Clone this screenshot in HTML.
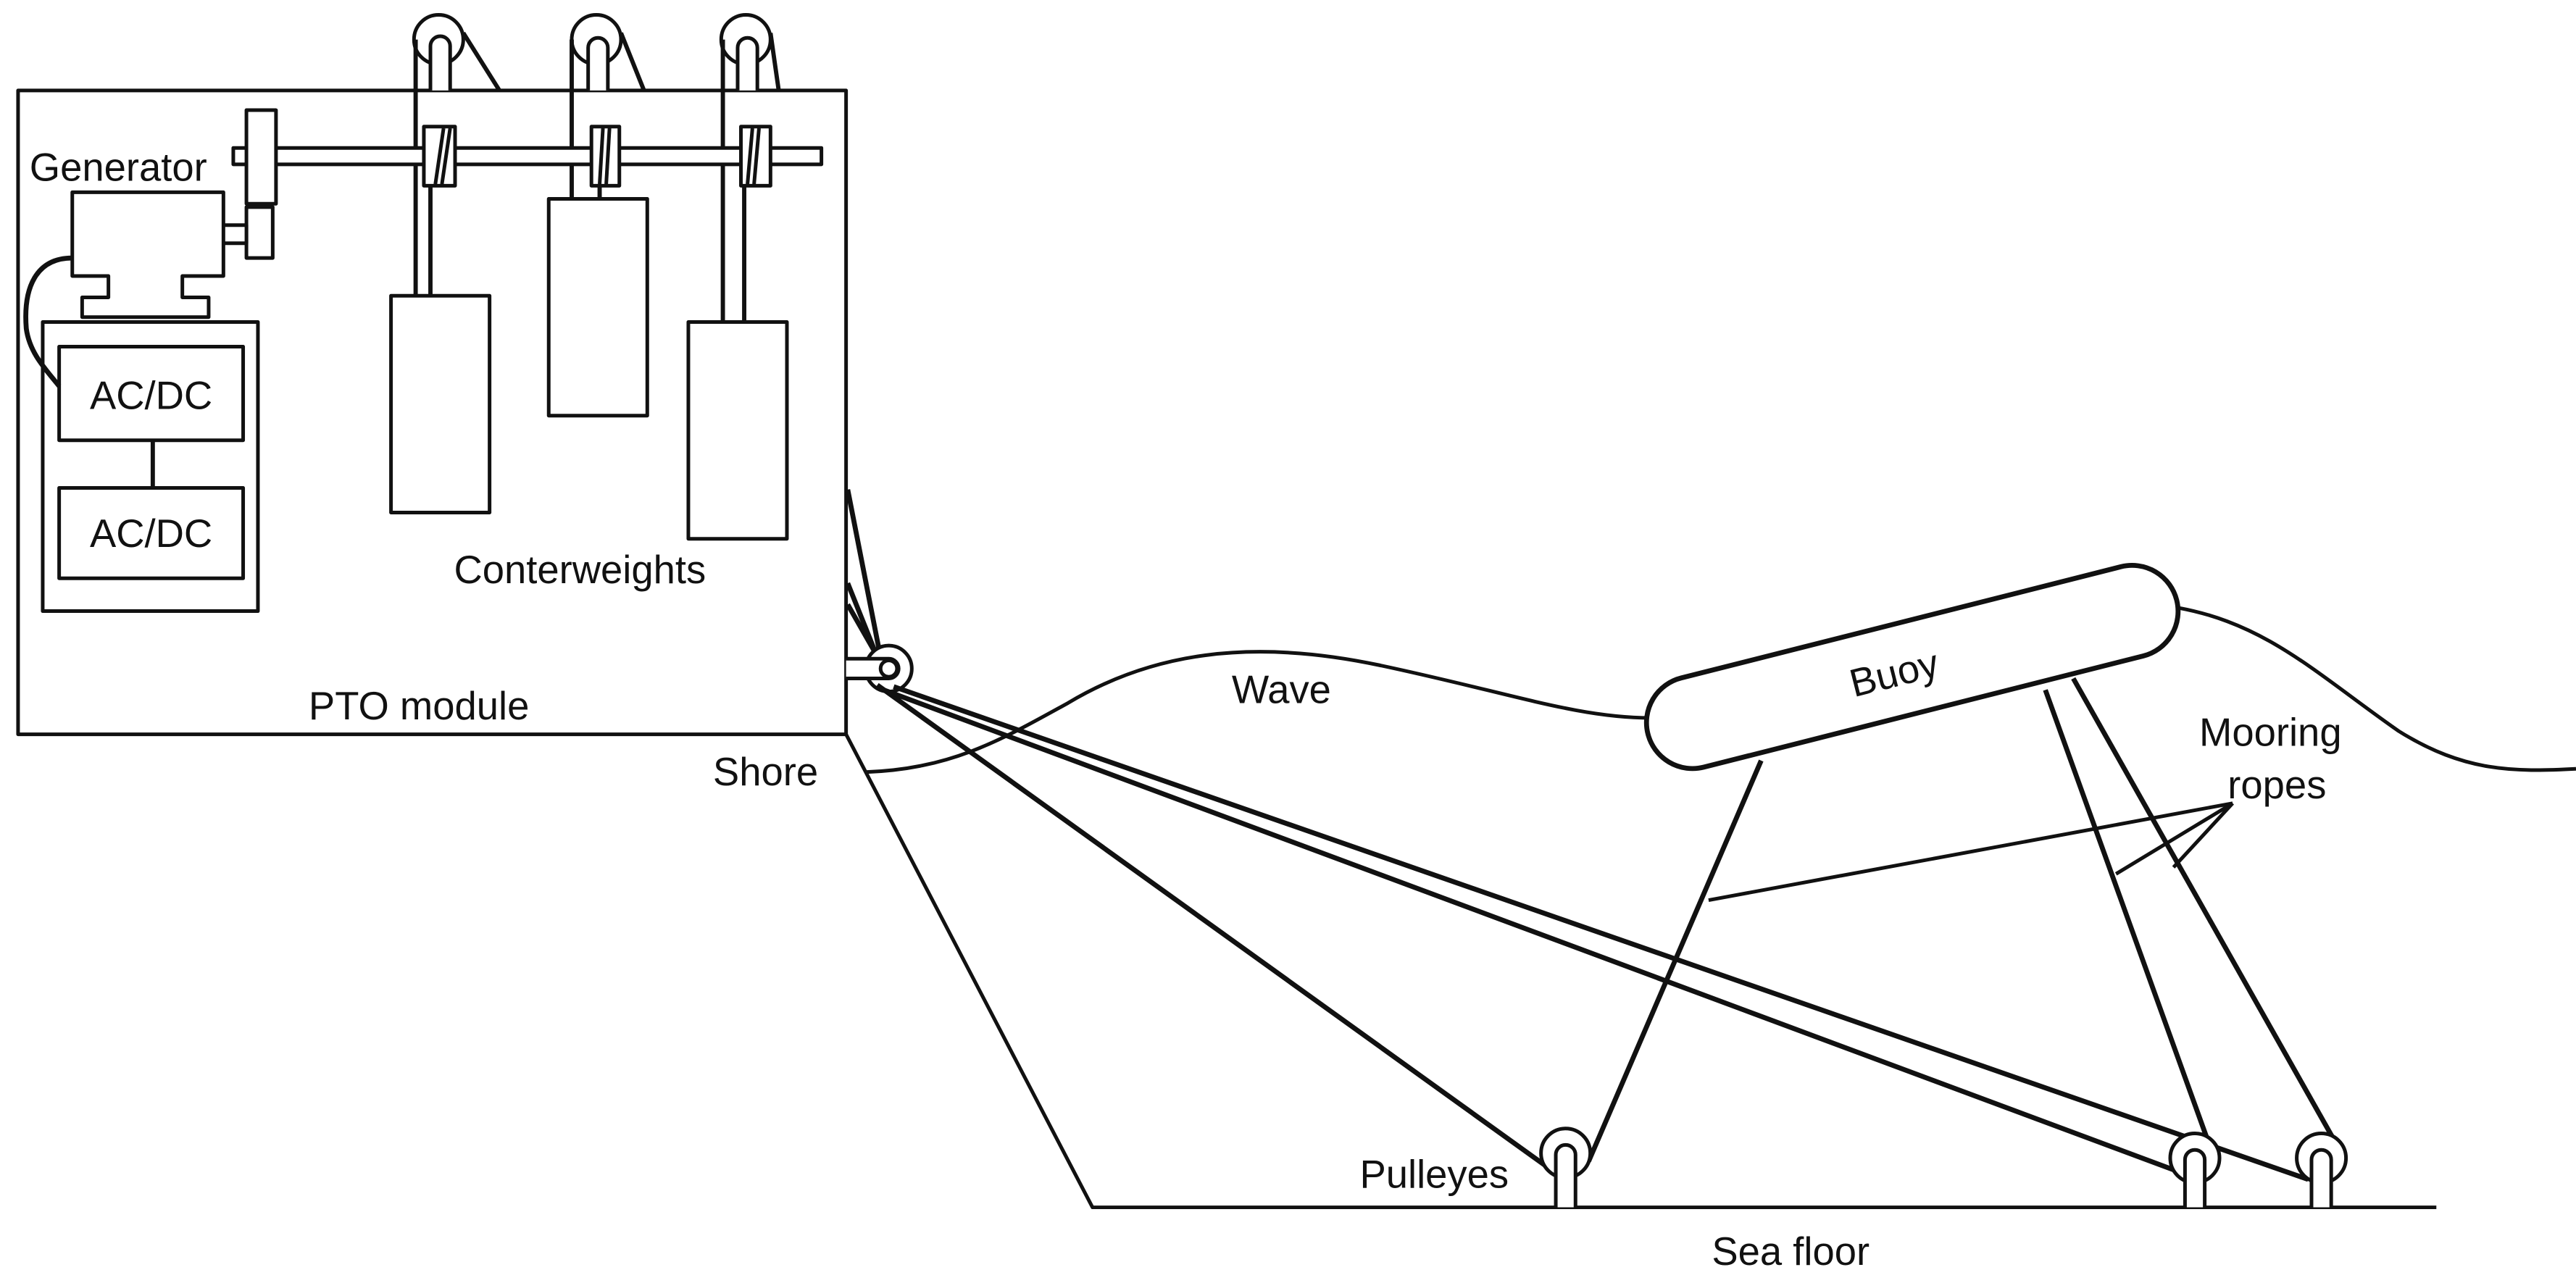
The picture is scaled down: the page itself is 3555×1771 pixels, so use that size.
<!DOCTYPE html>
<html><head><meta charset="utf-8"><style>
html,body{margin:0;padding:0;background:#fff;}
svg{display:block;}
text{font-family:"Liberation Sans",sans-serif;fill:#111;}
</style></head><body>
<svg width="3555" height="1771" viewBox="0 0 1568 781" xmlns="http://www.w3.org/2000/svg">
<g fill="none" stroke="#111" stroke-width="2.2" stroke-linejoin="round">
<!-- PTO box -->
<rect x="11" y="55" width="504" height="392"/>
<!-- top pulleys -->
<g fill="#fff">
<circle cx="267" cy="24" r="15"/><circle cx="363" cy="24" r="15"/><circle cx="454" cy="24" r="15"/>
</g>
<g stroke-width="2.6">
<line x1="253" y1="24" x2="253" y2="180"/>
<line x1="282" y1="20" x2="304" y2="55"/>
<line x1="348" y1="24" x2="348" y2="121"/>
<line x1="378" y1="20" x2="392" y2="55"/>
<line x1="440" y1="24" x2="440" y2="196"/>
<line x1="469" y1="20" x2="474" y2="55"/>
<line x1="262" y1="113" x2="262" y2="180"/>
<line x1="365" y1="113" x2="365" y2="121"/>
<line x1="453" y1="113" x2="453" y2="196"/>
</g>
<g fill="#fff">
<path d="M262,55 V28 A6,6 0 1 1 274,28 V55"/>
<path d="M358,55 V29 A6,6 0 1 1 370,29 V55"/>
<path d="M449,55 V29 A6,6 0 1 1 461,29 V55"/>
</g>
<!-- shaft -->
<rect x="142" y="90" width="358" height="10" fill="#fff"/>
<rect x="150" y="67" width="18" height="57" fill="#fff"/>
<rect x="150" y="126" width="16" height="31" fill="#fff"/>
<rect x="135" y="137" width="15" height="11" fill="#fff"/>
<!-- brackets -->
<g fill="#fff">
<rect x="258" y="77" width="19" height="36"/>
<rect x="360" y="77" width="17" height="36"/>
<rect x="451" y="77" width="18" height="36"/>
</g>
<line x1="265" y1="112" x2="270" y2="78"/><line x1="269" y1="112" x2="274" y2="78"/>
<line x1="365" y1="112" x2="367" y2="78"/><line x1="369" y1="112" x2="371" y2="78"/>
<line x1="455" y1="112" x2="458" y2="78"/><line x1="459" y1="112" x2="462" y2="78"/>
<!-- weights -->
<rect x="238" y="180" width="60" height="132"/>
<rect x="334" y="121" width="60" height="132"/>
<rect x="419" y="196" width="60" height="132"/>
<!-- generator -->
<path d="M44,117 H136 V168 H111 V181 H127 V193 H50 V181 H66 V168 H44 Z" fill="#fff"/>
<path d="M44,157 C22,157 14,175 16,200 C18,215 28,225 36,235" stroke-width="3"/>
<!-- converters -->
<rect x="26" y="196" width="131" height="176"/>
<rect x="36" y="211" width="112" height="57"/>
<rect x="36" y="297" width="112" height="55"/>
<line x1="93" y1="268" x2="93" y2="297" stroke-width="2.6"/>
<!-- shore / floor -->
<path d="M515,447 L665,735 H1483"/>
<!-- ropes from box to shore pulley -->
<g stroke-width="3">
<line x1="516" y1="298" x2="535" y2="395"/>
<line x1="516" y1="355" x2="532" y2="395"/>
<line x1="516" y1="368" x2="532" y2="396"/>
</g>
<!-- shore pulley -->
<circle cx="541" cy="407" r="14" fill="#fff"/>
<path d="M515,401 H541 A6,6 0 1 1 541,413 H515" fill="#fff"/>
<circle cx="541" cy="407" r="5"/>
<!-- wave -->
<path d="M527,470 C580,468 610,450 650,428 C700,398 760,388 840,405 C920,422 960,437 1005,437"/>
<path d="M1326,370 C1380,380 1410,410 1460,445 C1500,470 1530,470 1568,468"/>
<!-- long ropes -->
<g stroke-width="3">
<line x1="534" y1="417" x2="944" y2="712"/>
<line x1="538" y1="420" x2="1328" y2="714"/>
<line x1="544" y1="418" x2="1405" y2="718"/>
</g>
<!-- buoy legs -->
<g stroke-width="3">
<line x1="1072" y1="463" x2="967" y2="707"/>
<line x1="1245" y1="420" x2="1347" y2="703"/>
<line x1="1262" y1="413" x2="1423" y2="698"/>
</g>
<!-- buoy -->
<g transform="translate(1164,406) rotate(-14.2)">
<rect x="-166" y="-28" width="332" height="56" rx="28" fill="#fff" stroke-width="3"/>
</g>
<!-- floor pulleys -->
<g fill="#fff">
<circle cx="953" cy="702" r="15"/><circle cx="1336" cy="705" r="15"/><circle cx="1413" cy="705" r="15"/>
<path d="M947,735 V703 A6,6 0 1 1 959,703 V735"/>
<path d="M1330,735 V706 A6,6 0 1 1 1342,706 V735"/>
<path d="M1407,735 V706 A6,6 0 1 1 1419,706 V735"/>
</g>
<!-- annotation lines -->
<line x1="1359" y1="489" x2="1040" y2="548"/>
<line x1="1359" y1="489" x2="1288" y2="532"/>
<line x1="1359" y1="489" x2="1323" y2="528"/>
</g>
<g font-size="24">
<text x="18" y="110">Generator</text>
<text x="92" y="249" text-anchor="middle">AC/DC</text>
<text x="92" y="333" text-anchor="middle">AC/DC</text>
<text x="353" y="355" text-anchor="middle">Conterweights</text>
<text x="255" y="438" text-anchor="middle">PTO module</text>
<text x="466" y="478" text-anchor="middle">Shore</text>
<text x="780" y="428" text-anchor="middle">Wave</text>
<text x="1382" y="454" text-anchor="middle">Mooring</text>
<text x="1386" y="486" text-anchor="middle">ropes</text>
<text x="873" y="723" text-anchor="middle">Pulleyes</text>
<text x="1090" y="770" text-anchor="middle">Sea floor</text>
<text x="1153" y="418" text-anchor="middle" transform="rotate(-14.2 1153 410)">Buoy</text>
</g>
</svg>
</body></html>
